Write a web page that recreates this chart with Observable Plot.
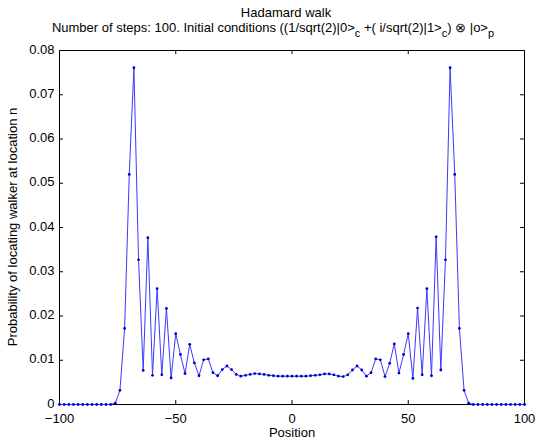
<!DOCTYPE html>
<html>
<head>
<meta charset="utf-8">
<script src="https://cdn.jsdelivr.net/npm/d3@7"></script>
<script src="https://cdn.jsdelivr.net/npm/@observablehq/plot@0.6"></script>
<style>
  html, body { margin: 0; padding: 0; background: #fff; }
  #chart svg { display: block; font-family: "Liberation Sans", Arial, Helvetica, sans-serif; }
</style>
</head>
<body>
<div id="chart"></div>
<script>
const positions = [
  -100, -98, -96, -94, -92, -90, -88, -86, -84, -82, -80, -78, -76, -74, -72, -70, -68,
  -66, -64, -62, -60, -58, -56, -54, -52, -50, -48, -46, -44, -42, -40, -38, -36, -34,
  -32, -30, -28, -26, -24, -22, -20, -18, -16, -14, -12, -10, -8, -6, -4, -2, 0,
  2, 4, 6, 8, 10, 12, 14, 16, 18, 20, 22, 24, 26, 28, 30, 32, 34,
  36, 38, 40, 42, 44, 46, 48, 50, 52, 54, 56, 58, 60, 62, 64, 66, 68,
  70, 72, 74, 76, 78, 80, 82, 84, 86, 88, 90, 92, 94, 96, 98, 100
];
const probability = [
  0, 0, 0, 0, 0, 0, 0, 0, 0, 0, 0, 0, 0.0003, 0.0032, 0.0172, 0.0520, 0.0761,
  0.0327, 0.0077, 0.0377, 0.0066, 0.0262, 0.0067, 0.0217, 0.0060, 0.0160, 0.0113, 0.0070, 0.0136, 0.0094, 0.0065, 0.0101, 0.0103, 0.0072,
  0.0065, 0.0079, 0.0087, 0.0079, 0.0068, 0.0064, 0.0066, 0.0068, 0.0070, 0.0069, 0.0068, 0.0066, 0.0065, 0.0064, 0.0064, 0.0064, 0.0064,
  0.0064, 0.0064, 0.0064, 0.0065, 0.0066, 0.0067, 0.0069, 0.0069, 0.0067, 0.0064, 0.0063, 0.0067, 0.0078, 0.0087, 0.0078, 0.0064, 0.0072,
  0.0103, 0.0101, 0.0063, 0.0093, 0.0137, 0.0071, 0.0113, 0.0160, 0.0059, 0.0218, 0.0067, 0.0262, 0.0065, 0.0379, 0.0078, 0.0327, 0.0761,
  0.0520, 0.0172, 0.0032, 0.0003, 0, 0, 0, 0, 0, 0, 0, 0, 0, 0, 0, 0
];
const xTicks = [-100, -50, 0, 50, 100];
const yTicks = [0, 0.01, 0.02, 0.03, 0.04, 0.05, 0.06, 0.07, 0.08];
const titleText = "Hadamard walk";
const xLabel = "Position";
const yLabel = "Probability of locating walker at location n";

const data = positions.map((p, i) => ({position: p, prob: probability[i]}));

const W = 538, H = 440;
const mTop = 50, mRight = 14, mBottom = 36, mLeft = 59;
const innerH = H - mTop - mBottom;
const innerW = W - mLeft - mRight;
const tickLen = 4;
const fmt = d => (d < 0 ? "\u2212" + Math.abs(d) : String(d));

const chart = Plot.plot({
  width: W,
  height: H,
  marginTop: mTop,
  marginRight: mRight,
  marginBottom: mBottom,
  marginLeft: mLeft,
  style: {fontFamily: '"Liberation Sans", Arial, Helvetica, sans-serif', fontSize: "13px", background: "#fff", color: "#000"},
  x: {domain: [-100, 100], ticks: xTicks, label: null},
  y: {domain: [0, 0.08], ticks: yTicks, label: null},
  marks: [
    Plot.axisX(xTicks, {tickSize: 0, tickPadding: 9, tickFormat: fmt, fontSize: 13, label: null}),
    Plot.axisY(yTicks, {tickSize: 0, tickPadding: 5, dy: -1, tickFormat: d => String(+d.toFixed(2)), fontSize: 13, label: null}),
    Plot.tickX(xTicks, {x: d => d, insetTop: innerH - tickLen, stroke: "#000", strokeWidth: 1}),
    Plot.tickX(xTicks, {x: d => d, insetBottom: innerH - tickLen, stroke: "#000", strokeWidth: 1}),
    Plot.tickY(yTicks, {y: d => d, insetRight: innerW - tickLen, stroke: "#000", strokeWidth: 1}),
    Plot.tickY(yTicks, {y: d => d, insetLeft: innerW - tickLen, stroke: "#000", strokeWidth: 1}),
    Plot.frame({stroke: "#000", strokeWidth: 1}),
    Plot.line(data, {x: "position", y: "prob", stroke: "#3a3aff", strokeWidth: 1}),
    Plot.dot(data, {x: "position", y: "prob", r: 1.4, fill: "#0000c8", stroke: "none"})
  ]
});

const svg = d3.select(chart);
const font = '"Liberation Sans", Arial, Helvetica, sans-serif';

svg.append("text")
  .attr("x", 286).attr("y", 16.5)
  .attr("text-anchor", "middle")
  .attr("font-family", font).attr("font-size", 13).attr("fill", "#000")
  .text(titleText);

const t2 = svg.append("text")
  .attr("x", 273).attr("y", 31.5)
  .attr("text-anchor", "middle")
  .attr("font-family", font).attr("font-size", 13).attr("fill", "#000");
const parts = [
  ["Number of steps: 100. Initial conditions ((1/sqrt(2)|0>", false],
  ["c", true],
  [" +( i/sqrt(2)|1>", false],
  ["c", true],
  [") \u2297 |o>", false],
  ["p", true]
];
parts.forEach(([s, sub], i) => {
  const ts = t2.append("tspan").text(s);
  if (sub) ts.attr("dy", 5).attr("font-size", 11);
  else if (i > 0 && parts[i - 1][1]) ts.attr("dy", -5);
});

svg.append("text")
  .attr("x", mLeft + innerW / 2 + 0.5).attr("y", 437)
  .attr("text-anchor", "middle")
  .attr("font-family", font).attr("font-size", 13).attr("fill", "#000")
  .text(xLabel);

svg.append("text")
  .attr("transform", `translate(17,${mTop + innerH / 2}) rotate(-90)`)
  .attr("text-anchor", "middle")
  .attr("font-family", font).attr("font-size", 13).attr("fill", "#000")
  .text(yLabel);

document.getElementById("chart").appendChild(chart);
</script>
</body>
</html>
